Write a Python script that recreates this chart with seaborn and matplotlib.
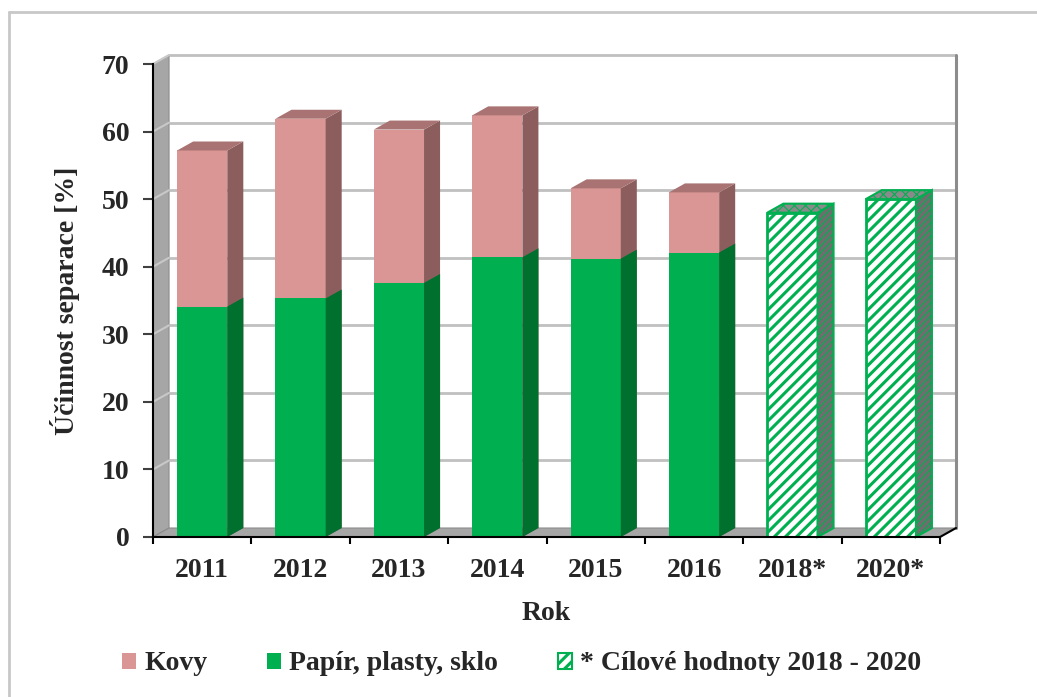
import numpy as np
import pandas as pd
import matplotlib
matplotlib.use('Agg')
import matplotlib.pyplot as plt
import seaborn as sns
from matplotlib.patches import Polygon, Patch
from matplotlib.lines import Line2D

# ---------------- data ----------------
years = ['2011', '2012', '2013', '2014', '2015', '2016', '2018*', '2020*']
measured_years = ['2011', '2012', '2013', '2014', '2015', '2016']
target_years = ['2018*', '2020*']
papir = [34.1, 35.3, 37.6, 41.4, 41.2, 42.1]      # Papír, plasty, sklo
kovy = [23.1, 26.6, 22.7, 21.0, 10.4, 8.9]        # Kovy (stacked on top)
targets = [48.0, 50.0]                            # Cílové hodnoty
yticks = [0, 10, 20, 30, 40, 50, 60, 70]
legend_labels = ['Kovy', 'Papír, plasty, sklo', '* Cílové hodnoty 2018 - 2020']

# ---------------- style ----------------
PINK = '#d99694'
PINK_SIDE = '#8b5e5d'
PINK_TOP = '#a87372'
GREEN = '#00b050'
GREEN_SIDE = '#00702f'
WALL = '#a6a6a6'
GRID = '#c0c0c0'

sns.set_style('white')
plt.rcParams['font.family'] = ['Liberation Serif', 'DejaVu Serif']
plt.rcParams['font.weight'] = 'bold'
plt.rcParams['hatch.linewidth'] = 2.2

FS = 20
W = 0.51          # bar width (category units)
DX, DY = 0.163, 1.33   # pseudo-3D depth offset in data units

fig = plt.figure(figsize=(10.37, 6.97), dpi=100)
ax = fig.add_axes([153 / 1037, 1 - 537 / 697, (940 - 153) / 1037, (537 - 64) / 697])
ax.set_facecolor('none')

total = [p + k for p, k in zip(papir, kovy)]
df_m = pd.DataFrame({'Rok': measured_years, 'Papir': papir, 'Celkem': total})
df_t = pd.DataFrame({'Rok': target_years, 'Cil': targets})

x_lo, x_hi = -0.5, len(years) - 0.5
y_hi = yticks[-1]

# ---------------- walls / floor / grid ----------------
ax.add_patch(Polygon([(x_lo, 0), (x_lo + DX, DY), (x_lo + DX, y_hi + DY), (x_lo, y_hi)],
                     closed=True, facecolor=WALL, edgecolor='#8c8c8c', lw=0.8,
                     zorder=0.5, clip_on=False))
ax.add_patch(Polygon([(x_lo, 0), (x_hi, 0), (x_hi + DX, DY), (x_lo + DX, DY)],
                     closed=True, facecolor=WALL, edgecolor='#8c8c8c', lw=0.8,
                     zorder=0.6, clip_on=False))
for v in yticks[1:]:
    ax.plot([x_lo + DX, x_hi + DX], [v + DY, v + DY], color=GRID, lw=2,
            zorder=0.4, clip_on=False, solid_capstyle='butt')
    ax.plot([x_lo, x_lo + DX], [v, v + DY], color='#c8c8c8', lw=1.5,
            zorder=0.7, clip_on=False)
ax.plot([x_hi + DX, x_hi + DX], [DY, y_hi + DY], color='#8c8c8c', lw=2.2,
        zorder=0.5, clip_on=False)
ax.plot([x_hi, x_hi + DX], [0, DY], color='black', lw=1.5, zorder=5, clip_on=False)


def add_faces(patches, side_color, top_color=None, z=3, **kw):
    for p in patches:
        x0, y0 = p.get_x(), p.get_y()
        w, h = p.get_width(), p.get_height()
        x1, y1 = x0 + w, y0 + h
        ax.add_patch(Polygon([(x1, y0), (x1 + DX, y0 + DY), (x1 + DX, y1 + DY), (x1, y1)],
                             closed=True, facecolor=side_color, zorder=z, clip_on=False, **kw))
        if top_color is not None:
            ax.add_patch(Polygon([(x0, y1), (x0 + DX, y1 + DY), (x1 + DX, y1 + DY), (x1, y1)],
                                 closed=True, facecolor=top_color, zorder=z, clip_on=False, **kw))


# ---------------- bars ----------------
n0 = len(ax.patches)
sns.barplot(data=df_m, x='Rok', y='Celkem', order=years, color=PINK, saturation=1,
            width=W, errorbar=None, ax=ax)
pink_bars = ax.patches[n0:]
for p in pink_bars:
    p.set_zorder(3)
    p.set_edgecolor('none')
add_faces(list(pink_bars), PINK_SIDE, PINK_TOP, z=3, edgecolor='none')

n0 = len(ax.patches)
sns.barplot(data=df_m, x='Rok', y='Papir', order=years, color=GREEN, saturation=1,
            width=W, errorbar=None, ax=ax)
green_bars = ax.patches[n0:]
for p in green_bars:
    p.set_zorder(4)
    p.set_edgecolor('none')
add_faces(list(green_bars), GREEN_SIDE, None, z=4, edgecolor='none')

n0 = len(ax.patches)
sns.barplot(data=df_t, x='Rok', y='Cil', order=years, color='white', saturation=1,
            width=W, errorbar=None, ax=ax)
target_bars = ax.patches[n0:]
for p in target_bars:
    p.set_zorder(4)
    p.set_facecolor('white')
    p.set_edgecolor(GREEN)
    p.set_hatch('///')
    p.set_linewidth(2)

# side / top faces of the target bars: grey with fine green hatching
with plt.rc_context({'hatch.linewidth': 0.8}):
    for p in list(target_bars):
        x0, y0 = p.get_x(), p.get_y()
        w, h = p.get_width(), p.get_height()
        x1, y1 = x0 + w, y0 + h
        side = Polygon([(x1, y0), (x1 + DX, y0 + DY), (x1 + DX, y1 + DY), (x1, y1)],
                       closed=True, facecolor='#6e6e6e', edgecolor=GREEN, hatch='/////',
                       lw=1.5, zorder=4, clip_on=False)
        top = Polygon([(x0, y1), (x0 + DX, y1 + DY), (x1 + DX, y1 + DY), (x1, y1)],
                      closed=True, facecolor='#8a8a8a', edgecolor=GREEN, hatch='xxx',
                      lw=1.5, zorder=4, clip_on=False)
        for poly in (side, top):
            if hasattr(poly, 'set_hatch_linewidth'):
                poly.set_hatch_linewidth(0.8)
            ax.add_patch(poly)

# ---------------- axes ----------------
ax.set_xlim(x_lo, x_hi)
ax.set_ylim(0, y_hi)
ax.set_yticks(yticks)
ax.set_xticks(range(len(years)))
ax.set_xticklabels(years)
ax.set_xticks(np.arange(x_lo, x_hi + 0.01, 1.0), minor=True)
for s in ['top', 'right']:
    ax.spines[s].set_visible(False)
for s in ['left', 'bottom']:
    ax.spines[s].set_color('black')
    ax.spines[s].set_linewidth(1.5)
    ax.spines[s].set_zorder(5)
ax.tick_params(axis='y', which='major', length=7, width=1.5, pad=10,
               labelsize=FS, color='#404040', left=True)
ax.tick_params(axis='x', which='major', length=0, pad=15, labelsize=FS)
ax.tick_params(axis='x', which='minor', length=5, width=1.5, color='black', bottom=True)
for lab in ax.get_xticklabels() + ax.get_yticklabels():
    lab.set_fontweight('bold')
ax.grid(False)

ax.set_xlabel('Rok', fontsize=FS, fontweight='bold', labelpad=13)
ax.set_ylabel('Účinnost separace [%]', fontsize=FS, fontweight='bold', labelpad=16)

# ---------------- legend ----------------
handles = [Patch(facecolor=PINK, edgecolor='none'),
           Patch(facecolor=GREEN, edgecolor='none'),
           Patch(facecolor='white', edgecolor=GREEN, hatch='///', linewidth=1.5)]
fig.legend(handles, legend_labels, loc='center', bbox_to_anchor=(0.503, 1 - 664 / 697),
           ncol=3, frameon=False, fontsize=FS, handlelength=0.5, handleheight=0.5,
           handletextpad=0.3, columnspacing=2.15, prop={'weight': 'bold', 'size': FS})

# ---------------- outer border ----------------
fig.add_artist(Line2D([9 / 1037, 9 / 1037], [0, 1 - 12 / 697], transform=fig.transFigure,
                      color='#c8c8c8', lw=2))
fig.add_artist(Line2D([9 / 1037, 1], [1 - 12 / 697, 1 - 12 / 697], transform=fig.transFigure,
                      color='#c8c8c8', lw=2))

fig.savefig('out.png', dpi=100)
